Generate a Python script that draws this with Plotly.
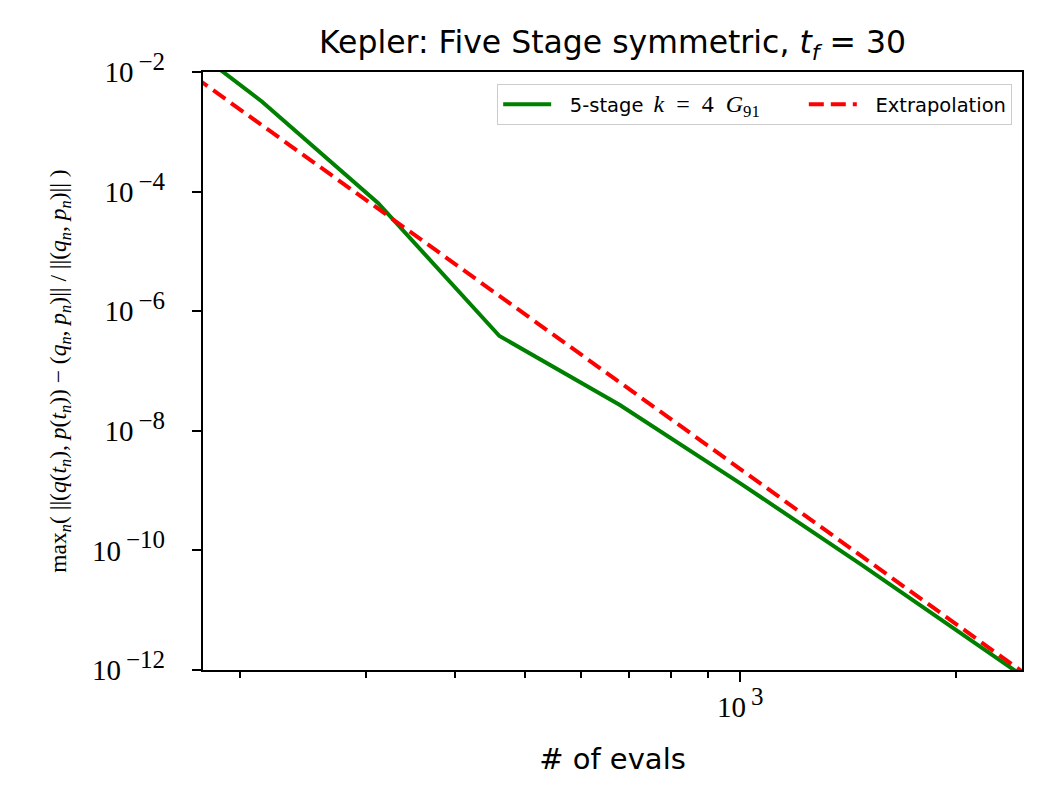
import plotly.graph_objects as go

# --- datos ---
evals = [146, 215, 312, 461, 679, 1000, 1470, 2165, 3185]
err_5stage = [1.1e-1, 3.18e-3, 6.46e-5, 3.85e-7, 2.70e-8, 1.32e-9, 5.97e-11, 2.50e-12, 1.0e-13]
err_extrap = [3.59e-2, 1.28e-3, 5.20e-5, 1.80e-6, 6.43e-8, 2.30e-9, 8.32e-11, 2.97e-12, 1.07e-13]

x_major = [1000]
x_minor = [200, 300, 400, 500, 600, 700, 800, 900, 2000]
y_ticks = [1e-2, 1e-4, 1e-6, 1e-8, 1e-10, 1e-12]
y_exps = ["−2", "−4", "−6", "−8", "−10", "−12"]
x_exps = ["3"]

SERIF = "Liberation Serif"
SANS = "DejaVu Sans"
Y_RANGE = [-12, -2]
LEAD = "\u2002\u2009"  # hueco entre la muestra de linea y el texto


def pot10(e):
    # exponente algo mas grande que el <sup> por defecto, como mathtext
    return "10<sup><span style='font-size:25px'>\u2009" + e + "</span></sup>"


fig = go.Figure()

fig.add_trace(go.Scatter(
    x=evals, y=err_5stage, mode="lines",
    name=LEAD + "5-stage\u2009 <span style='font-family:Liberation Serif;font-size:24px'>"
         "<i>k</i>\u2002=\u20024\u2002<i>G</i><sub>91</sub></span>\u2003\u2003",
    line=dict(color="#008000", width=4),
))

# en y2 (mismo rango) para que ese eje dibuje los ticks cortos
fig.add_trace(go.Scatter(
    x=evals, y=err_extrap, mode="lines",
    name=LEAD + "Extrapolation", yaxis="y2",
    line=dict(color="#ff0000", width=4, dash="15px,7px"),
))

# la pagina tiene 8px de margen en el body -> figura un poco mas pequena
fig.update_layout(
    width=1041, height=792,
    margin=dict(l=195, r=27, t=64, b=130),
    paper_bgcolor="white", plot_bgcolor="white",
    title=dict(
        text="Kepler: Five Stage symmetric, <i>t<sub>f</sub></i> = 30",
        x=0.5, xref="paper", y=0.957, yref="container", yanchor="middle",
        font=dict(family=SANS, size=31.5, color="black"),
    ),
    legend=dict(
        x=0.988, y=0.98, xanchor="right", yanchor="top",
        orientation="h", itemwidth=48,
        bgcolor="rgba(255,255,255,0.8)",
        bordercolor="#cccccc", borderwidth=1,
        font=dict(family=SANS, size=19.5, color="black"),
    ),
    showlegend=True,
)

fig.update_xaxes(
    type="log", range=[2.2499, 3.3932],
    showgrid=False, zeroline=False,
    showline=True, linecolor="black", linewidth=2.3, mirror=True,
    ticks="outside", ticklen=10, tickwidth=2.2, tickcolor="black",
    tickmode="array", tickvals=x_major, ticktext=[pot10(e) for e in x_exps],
    tickfont=dict(family=SERIF, size=29, color="black"),
    minor=dict(ticks="outside", ticklen=5.5, tickwidth=1.6, tickcolor="black",
               tickmode="array", tickvals=x_minor, showgrid=False),
    title=dict(text="# of evals", standoff=27,
               font=dict(family=SANS, size=29, color="black")),
)

# eje principal: etiquetas separadas del eje (ticks largos invisibles)
fig.update_layout(yaxis=dict(
    type="log", range=Y_RANGE,
    showgrid=False, zeroline=False,
    showline=True, linecolor="black", linewidth=2.3, mirror=True,
    ticks="outside", ticklen=30, tickwidth=2.2, tickcolor="rgba(0,0,0,0)",
    tickmode="array", tickvals=y_ticks, ticktext=[pot10(e) for e in y_exps],
    tickfont=dict(family=SERIF, size=29, color="black"),
    title=dict(
        text="max<sub><i>n</i></sub>( ||(<i>q</i>(<i>t<sub>n</sub></i>), <i>p</i>(<i>t<sub>n</sub></i>)) − "
             "(<i>q<sub>n</sub></i>, <i>p<sub>n</sub></i>)|| / ||(<i>q<sub>n</sub></i>, <i>p<sub>n</sub></i>)|| )",
        standoff=19,
        font=dict(family=SERIF, size=23.5, color="black"),
    ),
))

# eje superpuesto: solo los ticks visibles
fig.update_layout(yaxis2=dict(
    type="log", range=Y_RANGE, overlaying="y", side="left",
    showgrid=False, zeroline=False, showline=False, showticklabels=False,
    ticks="outside", ticklen=10, tickwidth=2.2, tickcolor="black",
    tickmode="array", tickvals=y_ticks,
))

fig.write_html("out.html")
